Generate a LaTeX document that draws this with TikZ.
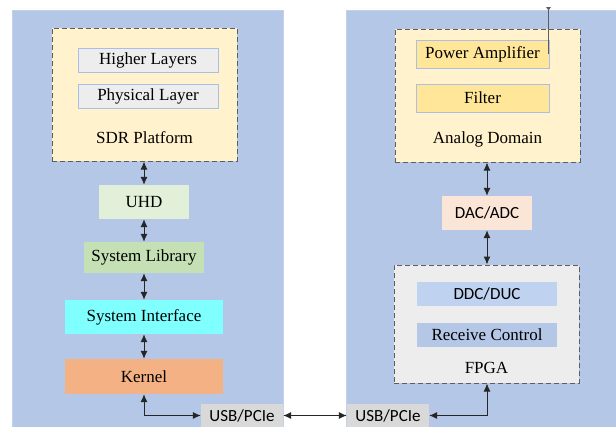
\documentclass[tikz,border=0pt]{standalone}
\usepackage{fontspec}
\setmainfont{Liberation Serif}
\newfontfamily\calib{Carlito}
\usetikzlibrary{arrows.meta}
\definecolor{panelblue}{HTML}{B4C7E7}
\definecolor{paneledge}{HTML}{C3D2EC}
\definecolor{sdrfill}{HTML}{FFF2CC}
\definecolor{greyfill}{HTML}{EDEDED}
\definecolor{innerblue}{HTML}{A8BFE6}
\definecolor{uhdfill}{HTML}{E2F0D9}
\definecolor{libfill}{HTML}{C5E0B4}
\definecolor{intfill}{HTML}{80FFFF}
\definecolor{kernfill}{HTML}{F4B183}
\definecolor{usbfill}{HTML}{D9D9D9}
\definecolor{goldfill}{HTML}{FFE699}
\definecolor{dacfill}{HTML}{FBE5D6}
\definecolor{ddcfill}{HTML}{BFD2F0}
\definecolor{rcfill}{HTML}{B4C7E7}
\definecolor{dashgrey}{HTML}{5E5E5E}
\tikzset{
  panel/.style={rectangle, fill=panelblue, draw=paneledge, line width=0.8pt, inner sep=0pt},
  group/.style={rectangle, draw=dashgrey, line width=1pt, dash pattern=on 5pt off 3pt, inner sep=0pt},
  box/.style={rectangle, inner sep=0pt, font=\fontsize{17}{20}\selectfont},
  sbox/.style={box, font=\calib\fontsize{17}{20}\selectfont},
  lbl/.style={inner sep=0pt, font=\fontsize{17}{20}\selectfont},
  arr/.style={{Latex[length=8pt,width=7pt]}-{Latex[length=8pt,width=7pt]}, line width=1pt, black!85}
}
\begin{document}
\begin{tikzpicture}[x=1pt,y=-1pt]
\useasboundingbox (0,0) rectangle (616,426);
\fill[white] (0,0) rectangle (616,426);
% panels
\node[panel, minimum width=271pt, minimum height=418pt] (leftpanel) at (147.5,219) {};
\node[panel, minimum width=272pt, minimum height=418pt] (rightpanel) at (482,219) {};
% left column
\node[group, fill=sdrfill, minimum width=185pt, minimum height=133pt] (sdr) at (144.5,94.5) {};
\node[box, fill=greyfill, draw=innerblue, line width=0.8pt, minimum width=140pt, minimum height=24pt] (higher) at (148,60) {Higher Layers};
\node[box, fill=greyfill, draw=innerblue, line width=0.8pt, minimum width=140pt, minimum height=24pt] (phys) at (148,96) {Physical Layer};
\node[lbl] (sdrlabel) at (144.5,138) {SDR Platform};
\node[box, fill=uhdfill, minimum width=90pt, minimum height=34pt] (uhd) at (144,202) {UHD};
\node[box, fill=libfill, minimum width=120pt, minimum height=31pt] (syslib) at (144,257.5) {System Library};
\node[box, fill=intfill, minimum width=158pt, minimum height=34pt] (sysint) at (144,317) {System Interface};
\node[box, fill=kernfill, minimum width=158pt, minimum height=35pt] (kernel) at (144,376.5) {Kernel};
\node[sbox, fill=usbfill, minimum width=82pt, minimum height=23pt] (usbL) at (242,415.5) {USB/PCIe};
% right column
\node[group, fill=sdrfill, minimum width=185pt, minimum height=133pt] (analog) at (487.5,95.5) {};
\node[box, fill=goldfill, draw=innerblue, line width=0.8pt, minimum width=133pt, minimum height=28pt] (pa) at (482.5,54) {Power Amplifier};
\node[box, fill=goldfill, draw=innerblue, line width=0.8pt, minimum width=133pt, minimum height=28pt] (filter) at (482.5,98) {Filter};
\node[lbl] (analoglabel) at (487.5,139) {Analog Domain};
\node[sbox, fill=dacfill, minimum width=90pt, minimum height=34pt] (dac) at (487,213) {DAC/ADC};
\node[group, fill=greyfill, minimum width=185pt, minimum height=118pt] (fpga) at (486.5,324) {};
\node[sbox, fill=ddcfill, minimum width=140pt, minimum height=24pt] (ddc) at (487,294) {DDC/DUC};
\node[box, fill=rcfill, minimum width=140pt, minimum height=24pt] (rc) at (487,335) {Receive Control};
\node[lbl] (fpgalabel) at (486.5,368) {FPGA};
\node[sbox, fill=usbfill, minimum width=82pt, minimum height=23pt] (usbR) at (388,415.5) {USB/PCIe};
% antenna
\coordinate (ant) at (548.5,8);
\draw[line width=0.9pt, dashgrey] (pa.east -| ant) -- (ant);
\fill[dashgrey] (ant) ++(-2.5,-1) -- ++(5,0) -- ++(-2.5,3.5) -- cycle;
% connectors left
\draw[arr] (uhd.north |- sdr.south) -- (uhd.north);
\draw[arr] (uhd.south) -- (syslib.north);
\draw[arr] (syslib.south) -- (sysint.north);
\draw[arr] (sysint.south) -- (kernel.north);
\draw[arr] (kernel.south) |- (usbL.west);
% connectors right
\draw[arr] (dac.north |- analog.south) -- (dac.north);
\draw[arr] (dac.south) -- (dac.south |- fpga.north);
\draw[arr] (dac.south |- fpga.south) |- (usbR.east);
% middle
\draw[arr] (usbL.east) -- (usbR.west);
\end{tikzpicture}
\end{document}
